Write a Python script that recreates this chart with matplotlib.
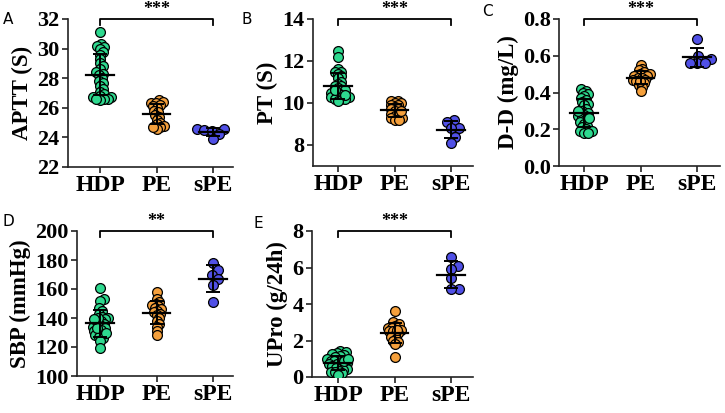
import numpy as np
import matplotlib
matplotlib.use("Agg")
import matplotlib.pyplot as plt

# groups and colours
groups = ["HDP", "PE", "sPE"]
colors = ["#2ED98F", "#F5A03C", "#5050E6"]

# A: APTT
aptt_hdp = [31.1, 30.3, 30.2, 30.1, 30.0, 29.8, 29.6, 29.3, 29.0, 28.8, 28.6, 28.4, 28.3, 28.2,
            28.0, 27.8, 27.7, 27.5, 27.3, 27.1, 26.9, 26.8, 26.7, 26.7, 26.6, 26.6, 26.5, 26.6]
aptt_pe = [26.5, 26.4, 26.3, 26.3, 26.2, 26.1, 26.0, 25.8, 25.7, 25.5, 25.4, 25.2, 25.0, 24.9,
           24.8, 24.7, 24.6, 24.7]
aptt_spe = [24.6, 24.6, 24.5, 24.4, 24.2, 23.9]

# B: PT
pt_hdp = [12.5, 12.2, 11.6, 11.5, 11.5, 11.4, 11.3, 11.2, 11.0, 10.9, 10.8, 10.8, 10.7, 10.6,
          10.6, 10.5, 10.5, 10.4, 10.4, 10.3, 10.3, 10.3, 10.2, 10.2, 10.2, 10.1, 10.4, 10.6]
pt_pe = [10.1, 10.1, 10.0, 10.0, 9.9, 9.9, 9.8, 9.7, 9.7, 9.6, 9.5, 9.5, 9.4, 9.3, 9.3, 9.2, 9.2, 9.6]
pt_spe = [9.2, 9.1, 8.8, 8.8, 8.4, 8.1]

# C: D-D
dd_hdp = [0.42, 0.41, 0.40, 0.39, 0.38, 0.37, 0.36, 0.35, 0.34, 0.33, 0.31, 0.30, 0.29, 0.28,
          0.27, 0.26, 0.25, 0.24, 0.23, 0.22, 0.21, 0.20, 0.19, 0.19, 0.18, 0.18, 0.26, 0.30]
dd_pe = [0.55, 0.53, 0.52, 0.51, 0.50, 0.50, 0.49, 0.49, 0.48, 0.48, 0.47, 0.47, 0.46, 0.45,
         0.44, 0.43, 0.41, 0.46]
dd_spe = [0.69, 0.60, 0.58, 0.56, 0.56, 0.56]

# D: SBP
sbp_hdp = [161, 153, 152, 147, 145, 143, 141, 140, 139, 138, 137, 136, 135, 134,
           133, 132, 131, 130, 129, 128, 127, 126, 124, 140, 130, 133, 119, 139]
sbp_pe = [158, 153, 151, 150, 149, 148, 147, 146, 145, 144, 143, 142, 140, 138, 136, 134, 131, 128]
sbp_spe = [178, 173, 170, 167, 163, 151]

# E: UPro
upro_hdp = [1.4, 1.35, 1.3, 1.25, 1.2, 1.15, 1.1, 1.0, 0.95, 0.9, 0.85, 0.8, 0.75, 0.7,
            0.7, 0.65, 0.6, 0.55, 0.5, 0.45, 0.4, 0.35, 0.3, 0.25, 0.2, 0.1, 0.9, 1.0]
upro_pe = [3.6, 3.0, 2.9, 2.8, 2.7, 2.7, 2.6, 2.5, 2.5, 2.4, 2.3, 2.2, 2.1, 2.0, 1.9, 1.8, 1.1, 2.6]
upro_spe = [6.6, 6.1, 5.9, 5.4, 4.8, 4.8]

panels = [
    ("A", "APTT (S)", [aptt_hdp, aptt_pe, aptt_spe], (22, 32), np.arange(22, 33, 2), "***", "%d"),
    ("B", "PT (S)", [pt_hdp, pt_pe, pt_spe], (7, 14), [8, 10, 12, 14], "***", "%d"),
    ("C", "D-D (mg/L)", [dd_hdp, dd_pe, dd_spe], (0, 0.8), np.arange(0, 0.81, 0.2), "***", "%.1f"),
    ("D", "SBP (mmHg)", [sbp_hdp, sbp_pe, sbp_spe], (100, 200), np.arange(100, 201, 20), "**", "%d"),
    ("E", "UPro (g/24h)", [upro_hdp, upro_pe, upro_spe], (0, 8), [0, 2, 4, 6, 8], "***", "%d"),
]

# axes boxes in pixels: left, top, right, bottom, x of first category
W, H = 725, 413
boxes = [
    (68, 19, 233, 167, 100),
    (313, 19, 473, 166, 338),
    (559, 19, 720, 166, 584),
    (77, 231, 233, 376, 100),
    (312, 231, 473, 377, 338),
]
letter_pos = [(8, 19), (247, 19), (487, 12), (8, 221), (258, 223)]
step_px = 56.5


def swarm(vals, px_per_unit, d):
    # simple beeswarm, offsets in pixels
    vals = np.asarray(vals, float) * px_per_unit
    order = np.argsort(vals)
    xs = np.zeros(len(vals))
    placed = []
    for i in order:
        y = vals[i]
        cands = [0.0]
        for (px, py) in placed:
            dy = abs(y - py)
            if dy < d:
                dx = np.sqrt(d * d - dy * dy)
                cands += [px + dx, px - dx]
        cands.sort(key=abs)
        for c in cands:
            ok = all((c - px) ** 2 + (y - py) ** 2 >= d * d - 1e-6 for px, py in placed)
            if ok:
                xs[i] = c
                break
        placed.append((xs[i], y))
    return xs


plt.rcParams['font.family'] = ['Liberation Serif', 'DejaVu Serif']
fig = plt.figure(figsize=(W / 100, H / 100), dpi=100)

for (letter, ylabel, data, ylim, yticks, stars, fmt), box, lp in zip(panels, boxes, letter_pos):
    l, t, r, b, x0 = box
    ax = fig.add_axes([l / W, 1 - b / H, (r - l) / W, (b - t) / H])
    xmin = -(x0 - l) / step_px
    xmax = xmin + (r - l) / step_px
    ax.set_xlim(xmin, xmax)
    ax.set_ylim(*ylim)
    ypx = (b - t) / (ylim[1] - ylim[0])

    for k, (vals, col) in enumerate(zip(data, colors)):
        d = 4.0 if len(vals) > 10 else 7.5
        offs = swarm(vals, ypx, d) / step_px
        ax.scatter(k + offs, vals, s=50, c=col, edgecolors="black", linewidths=0.9, zorder=3)
        m = np.mean(vals)
        sd = np.std(vals, ddof=1)
        ax.errorbar(k, m, yerr=sd, fmt="none", ecolor="black", elinewidth=1.4,
                    capsize=5, capthick=1.4, zorder=4)
        ax.plot([k - 0.24, k + 0.24], [m, m], color="black", lw=1.6, zorder=4)

    # significance bracket
    top = ylim[1]
    tk = 6 / ypx
    ax.plot([0, 0, 2, 2], [top - tk, top, top, top - tk], color="black", lw=1.3, clip_on=False)
    ax.annotate(stars, xy=(1, top), xytext=(0, 1), textcoords="offset points",
                ha="center", va="bottom", fontsize=13, fontweight="bold", annotation_clip=False)

    ax.set_xticks(range(3))
    ax.set_xticklabels(groups, fontsize=17, fontweight="bold")
    ax.set_yticks(yticks)
    ax.set_yticklabels([fmt % v for v in yticks], fontsize=16, fontweight="bold")
    ax.set_ylabel(ylabel, fontsize=16.5, fontweight="bold", labelpad=3)
    for s in ["top", "right"]:
        ax.spines[s].set_visible(False)
    for s in ["left", "bottom"]:
        ax.spines[s].set_linewidth(1.2)
        ax.spines[s].set_color("#222222")
    ax.tick_params(width=1.2, length=4, pad=2, color="#222222")

    fig.text(lp[0] / W, 1 - lp[1] / H, letter, ha="center", va="center",
             fontsize=11, family="DejaVu Sans")

fig.savefig("out.png", dpi=100)
